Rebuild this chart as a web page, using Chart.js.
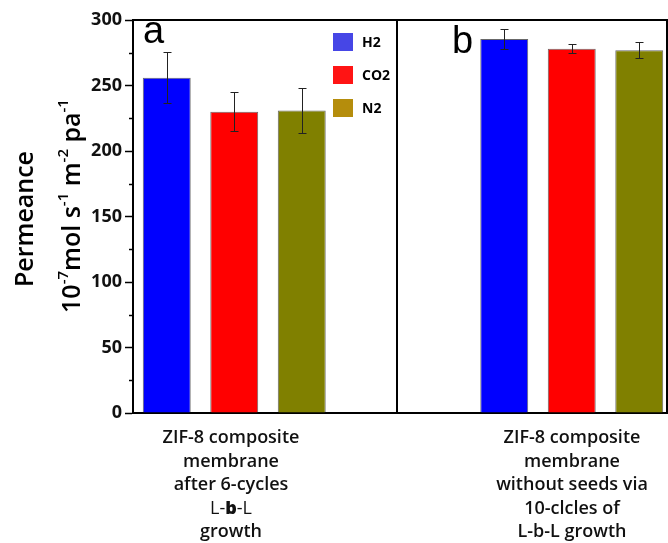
<!DOCTYPE html>
<html>
<head>
<meta charset="utf-8">
<script src="https://cdn.jsdelivr.net/npm/chart.js@4.4.1/dist/chart.umd.min.js"></script>
<style>
  html, body { margin: 0; padding: 0; background: #fff; overflow: hidden; }
  #wrap { width: 668px; height: 543px; overflow: hidden; }
</style>
</head>
<body>
<div id="wrap"><canvas id="chart" width="674" height="543"></canvas></div>
<script>
// data
const gases = ["H2", "CO2", "N2"];
const permeanceA = [256, 230, 231];      // panel a
const permeanceB = [285.5, 278, 277];    // panel b
const errorA = [19.5, 15, 17];
const errorB = [8, 3.5, 6];
const yTicks = [0, 50, 100, 150, 200, 250, 300];
const groupLabelsA = ["ZIF-8 composite", "membrane", "after 6-cycles", "L-b-L", "growth"];
const groupLabelsB = ["ZIF-8 composite", "membrane", "without seeds via", "10-clcles of", "L-b-L growth"];

const barColors = ["#0000ff", "#ff0000", "#808000"];
const legendColors = ["#4646e6", "#ff1414", "#b58d0c"];

// 8 slots on the x axis: panel a uses 0-2, panel b uses 5-7
const slotsA = [0, 1, 2];
const slotsB = [5, 6, 7];
const slotLabels = ["a H2", "a CO2", "a N2", "", "", "b H2", "b CO2", "b N2"];

const datasets = gases.map((gas, i) => {
  const data = slotLabels.map(() => null);
  const err = slotLabels.map(() => null);
  data[slotsA[i]] = permeanceA[i];
  err[slotsA[i]] = errorA[i];
  data[slotsB[i]] = permeanceB[i];
  err[slotsB[i]] = errorB[i];
  return {
    label: gas,
    data: data,
    errors: err,
    backgroundColor: barColors[i],
    borderColor: "rgba(40,40,40,0.7)",
    borderWidth: 1,
    grouped: false,
    barPercentage: 0.71,
    categoryPercentage: 1,
  };
});

const FONT = "'Open Sans', 'DejaVu Sans', sans-serif";

const decorPlugin = {
  id: "decor",
  afterDatasetsDraw(chart) {
    const ctx = chart.ctx;
    const y = chart.scales.y;
    const x = chart.scales.x;
    const area = chart.chartArea;

    // error bars
    ctx.save();
    ctx.strokeStyle = "#222";
    ctx.lineWidth = 1;
    chart.data.datasets.forEach((ds, di) => {
      const meta = chart.getDatasetMeta(di);
      meta.data.forEach((bar, idx) => {
        const v = ds.data[idx];
        if (v == null) return;
        const e = ds.errors[idx];
        const top = Math.round(y.getPixelForValue(v + e)) + 0.5;
        const bot = Math.round(y.getPixelForValue(v - e)) + 0.5;
        const cx = Math.round(bar.x) + 0.5;
        ctx.beginPath();
        ctx.moveTo(cx, top); ctx.lineTo(cx, bot);
        ctx.moveTo(cx - 4, top); ctx.lineTo(cx + 4, top);
        ctx.moveTo(cx - 4, bot); ctx.lineTo(cx + 4, bot);
        ctx.stroke();
      });
    });
    ctx.restore();

    // frame: top line, panel divider, right edge
    ctx.save();
    ctx.strokeStyle = "#000";
    ctx.lineWidth = 2;
    const divX = Math.round(x.getPixelForValue(3.41));
    ctx.beginPath();
    ctx.moveTo(area.left, area.top); ctx.lineTo(area.right, area.top);
    ctx.moveTo(divX, area.top); ctx.lineTo(divX, area.bottom);
    ctx.moveTo(667, area.top); ctx.lineTo(667, area.bottom);
    ctx.stroke();

    // minor y ticks
    ctx.lineWidth = 1.5;
    for (let v = 25; v < 300; v += 50) {
      const py = Math.round(y.getPixelForValue(v)) + 0.5;
      ctx.beginPath();
      ctx.moveTo(area.left - 4, py); ctx.lineTo(area.left, py);
      ctx.stroke();
    }
    ctx.restore();

    // panel letters
    ctx.save();
    ctx.fillStyle = "#000";
    ctx.font = "38px 'Liberation Sans', Arial, sans-serif";
    ctx.textBaseline = "alphabetic";
    ctx.fillText("a", 143, 43);
    ctx.fillText("b", 452, 53);
    ctx.restore();

    // legend inside panel a
    ctx.save();
    ctx.font = "bold 14px " + FONT;
    ctx.textBaseline = "middle";
    gases.forEach((g, i) => {
      const cy = 42 + i * 33;
      ctx.fillStyle = legendColors[i];
      ctx.fillRect(333, cy - 9, 20, 18);
      ctx.fillStyle = "#000";
      ctx.fillText(g, 362, cy + 1);
    });
    ctx.restore();

    // category labels under the axis
    ctx.save();
    ctx.fillStyle = "#111";
    ctx.textAlign = "center";
    ctx.textBaseline = "middle";
    const drawGroup = (lines, cx, y0) => {
      lines.forEach((line, i) => {
        const ly = y0 + i * 23.5;
        if (line === "L-b-L") {
          ctx.textAlign = "left";
          ctx.font = "400 18px " + FONT;
          const w1 = ctx.measureText("L-").width;
          const w3 = ctx.measureText("-L").width;
          ctx.font = "800 18px " + FONT;
          const w2 = ctx.measureText("b").width;
          let sx = cx - (w1 + w2 + w3) / 2;
          ctx.font = "400 18px " + FONT;
          ctx.fillText("L-", sx, ly);
          ctx.font = "800 18px " + FONT;
          ctx.fillText("b", sx + w1, ly);
          ctx.font = "400 18px " + FONT;
          ctx.fillText("-L", sx + w1 + w2, ly);
          ctx.textAlign = "center";
        } else {
          ctx.font = "600 18px " + FONT;
          ctx.fillText(line, cx, ly);
        }
      });
    };
    drawGroup(groupLabelsA, 231, 438);
    drawGroup(groupLabelsB, 572, 438);
    ctx.restore();

    // y axis title (two rotated lines, second with superscripts)
    ctx.save();
    ctx.fillStyle = "#000";
    ctx.translate(33, 219);
    ctx.rotate(-Math.PI / 2);
    ctx.font = "600 25px " + FONT;
    ctx.textAlign = "center";
    ctx.textBaseline = "alphabetic";
    ctx.fillText("Permeance", 0, 0);
    ctx.restore();

    const parts = [
      ["10", false], ["-7", true], ["mol s", false], ["-1", true],
      [" m", false], ["-2", true], [" pa", false], ["-1", true],
    ];
    ctx.save();
    ctx.fillStyle = "#000";
    ctx.translate(80, 206);
    ctx.rotate(-Math.PI / 2);
    ctx.textBaseline = "alphabetic";
    ctx.textAlign = "left";
    let total = 0;
    parts.forEach(([t, sup]) => {
      ctx.font = (sup ? "600 15px " : "600 25px ") + FONT;
      total += ctx.measureText(t).width;
    });
    let px = -total / 2;
    parts.forEach(([t, sup]) => {
      ctx.font = (sup ? "600 15px " : "600 25px ") + FONT;
      ctx.fillText(t, px, sup ? -12 : 0);
      px += ctx.measureText(t).width;
    });
    ctx.restore();
  },
};

new Chart(document.getElementById("chart"), {
  type: "bar",
  data: { labels: slotLabels, datasets: datasets },
  options: {
    responsive: false,
    animation: false,
    layout: { padding: { top: 20, right: 1, left: 0, bottom: 0 } },
    plugins: {
      legend: { display: false },
      tooltip: { enabled: false },
    },
    scales: {
      x: {
        grid: { display: false, drawTicks: false },
        border: { display: true, color: "#000", width: 2 },
        ticks: { display: false },
        afterFit(scale) { scale.height = 130; },
      },
      y: {
        min: 0,
        max: 300,
        afterBuildTicks(scale) {
          scale.ticks = yTicks.map((v) => ({ value: v }));
        },
        afterFit(scale) { scale.width = 133; },
        grid: {
          drawOnChartArea: false,
          drawTicks: true,
          tickLength: 8,
          tickColor: "#000",
          tickWidth: 1.5,
        },
        border: { display: true, color: "#000", width: 2 },
        ticks: {
          color: "#111",
          padding: 3,
          font: { family: FONT, size: 18, weight: "bold" },
        },
      },
    },
  },
  plugins: [decorPlugin],
});
</script>
</body>
</html>
